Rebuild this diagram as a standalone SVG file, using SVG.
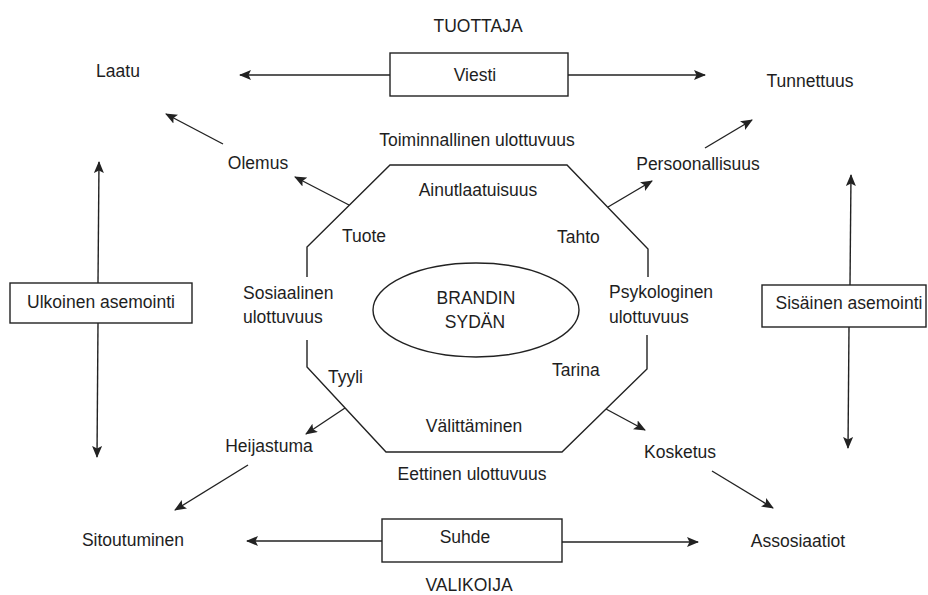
<svg xmlns="http://www.w3.org/2000/svg" width="928" height="595" viewBox="0 0 928 595">
  <defs>
    <style>
      text { font-family: "Liberation Sans", Arial, sans-serif; font-size: 17.5px; fill: #1e1e1e; }
      .c { text-anchor: middle; }
      .ln { stroke: #222; stroke-width: 1.4; fill: none; }
      .box { stroke: #222; stroke-width: 1.4; fill: #fff; }
      .arr { marker-end: url(#head); }
    </style>
    <marker id="head" markerUnits="userSpaceOnUse" markerWidth="13" markerHeight="11" refX="11" refY="5" orient="auto">
      <path d="M0,0 L12,5 L0,10 L2.5,5 Z" fill="#222"/>
    </marker>
  </defs>
  <rect width="928" height="595" fill="#fff"/>

  <!-- connectors -->
  <g id="connectors">
    <line class="ln arr" x1="390" y1="75" x2="240" y2="75"/>
    <line class="ln arr" x1="568" y1="75" x2="705" y2="75"/>
    <line class="ln arr" x1="382" y1="541" x2="247" y2="541"/>
    <line class="ln arr" x1="562" y1="542" x2="698" y2="542"/>
    <line class="ln arr" x1="98" y1="283" x2="99" y2="162"/>
    <line class="ln arr" x1="98" y1="323" x2="97" y2="457"/>
    <line class="ln arr" x1="850" y1="285" x2="851" y2="175"/>
    <line class="ln arr" x1="849" y1="327" x2="848" y2="448"/>
    <line class="ln arr" x1="349" y1="205" x2="295" y2="177"/>
    <line class="ln arr" x1="223" y1="144" x2="166" y2="114"/>
    <line class="ln arr" x1="608" y1="207" x2="652" y2="181"/>
    <line class="ln arr" x1="705" y1="148" x2="752" y2="120"/>
    <line class="ln arr" x1="345" y1="408" x2="306" y2="434"/>
    <line class="ln arr" x1="248" y1="465" x2="175" y2="510"/>
    <line class="ln arr" x1="606" y1="409" x2="645" y2="430"/>
    <line class="ln arr" x1="712" y1="471" x2="773" y2="508"/>
  </g>

  <!-- brand octagon with openings for the side labels -->
  <g id="octagon">
    <path class="ln" d="M307,277 L307,247 L390,165 L567,165 L648,249 L648,277"/>
    <path class="ln" d="M307,340 L307,367 L386,452 L562,452 L647,369 L647,335"/>
    <text class="c" x="477" y="146">Toiminnallinen ulottuvuus</text>
    <text class="c" x="478" y="196">Ainutlaatuisuus</text>
    <text x="342" y="242">Tuote</text>
    <text x="557" y="243">Tahto</text>
    <text x="243" y="299">Sosiaalinen</text>
    <text x="243" y="323">ulottuvuus</text>
    <text x="609" y="298">Psykologinen</text>
    <text x="609" y="323">ulottuvuus</text>
    <text x="328" y="383">Tyyli</text>
    <text x="552" y="376">Tarina</text>
    <text class="c" x="474" y="432">Välittäminen</text>
    <text class="c" x="472" y="480">Eettinen ulottuvuus</text>
  </g>

  <g id="core">
    <ellipse class="ln" cx="476" cy="310" rx="103" ry="47"/>
    <text class="c" x="476" y="304">BRANDIN</text>
    <text class="c" x="475" y="328">SYDÄN</text>
  </g>

  <g id="viesti">
    <rect class="box" x="390" y="53" width="178" height="43"/>
    <text class="c" x="475" y="81">Viesti</text>
  </g>
  <g id="suhde">
    <rect class="box" x="382" y="519" width="180" height="43"/>
    <text class="c" x="465" y="543">Suhde</text>
  </g>
  <g id="ulkoinen">
    <rect class="box" x="10" y="283" width="182" height="40"/>
    <text class="c" x="101" y="308">Ulkoinen asemointi</text>
  </g>
  <g id="sisainen">
    <rect class="box" x="762" y="285" width="164" height="42"/>
    <text class="c" x="849" y="309">Sisäinen asemointi</text>
  </g>

  <g id="tuottaja"><text class="c" x="478" y="32">TUOTTAJA</text></g>
  <g id="valikoija"><text class="c" x="469" y="591">VALIKOIJA</text></g>
  <g id="laatu"><text class="c" x="118" y="77">Laatu</text></g>
  <g id="tunnettuus"><text class="c" x="810" y="87">Tunnettuus</text></g>
  <g id="olemus"><text class="c" x="258" y="169">Olemus</text></g>
  <g id="persoonallisuus"><text class="c" x="698" y="170">Persoonallisuus</text></g>
  <g id="heijastuma"><text class="c" x="269" y="452">Heijastuma</text></g>
  <g id="kosketus"><text class="c" x="680" y="458">Kosketus</text></g>
  <g id="sitoutuminen"><text class="c" x="133" y="546">Sitoutuminen</text></g>
  <g id="assosiaatiot"><text class="c" x="798" y="547">Assosiaatiot</text></g>
</svg>
